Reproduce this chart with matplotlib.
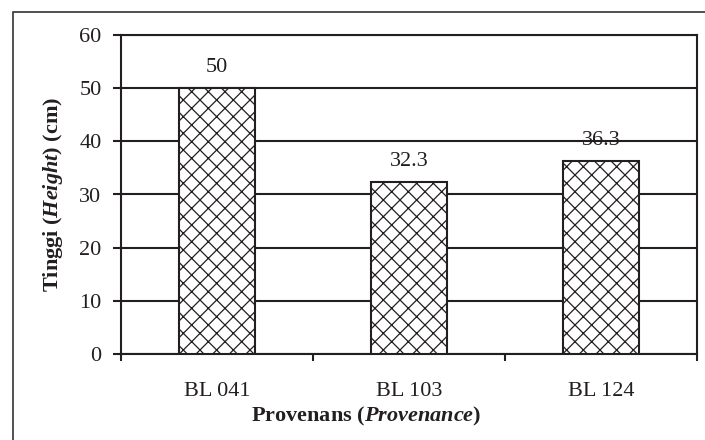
import matplotlib
matplotlib.use("Agg")
import matplotlib.pyplot as plt
from matplotlib.patches import Rectangle
from matplotlib.ticker import FixedLocator, NullFormatter

categories = ["BL 041", "BL 103", "BL 124"]
values = [50, 32.3, 36.3]
value_labels = ["50", "32.3", "36.3"]
yticks = [0, 10, 20, 30, 40, 50, 60]

INK = '#231f20'
plt.rcParams['font.family'] = ['Liberation Serif', 'DejaVu Serif']
plt.rcParams['mathtext.fontset'] = 'custom'
plt.rcParams['mathtext.rm'] = 'Liberation Serif'
plt.rcParams['mathtext.it'] = 'Liberation Serif:italic:bold'
plt.rcParams['mathtext.bf'] = 'Liberation Serif:bold'
plt.rcParams['hatch.linewidth'] = 0.9
plt.rcParams['hatch.color'] = INK

fig = plt.figure(figsize=(7.05, 4.4), dpi=100)
W, H = 705, 440
ax = fig.add_axes([121 / W, 1 - 354 / H, (697 - 121) / W, (354 - 35) / H])

x = list(range(len(categories)))
ax.bar(x, values, width=0.4, color='white', edgecolor=INK, linewidth=1.5, hatch='xx', zorder=3)

for xi, v, lab in zip(x, values, value_labels):
    ax.annotate(lab, (xi, v), xytext=(0, 11.5), textcoords='offset points',
                ha='center', va='baseline', fontsize=16, color=INK, zorder=4)

ax.set_xlim(-0.5, len(categories) - 0.5)
ax.set_ylim(0, 60)
ax.set_yticks(yticks)
ax.tick_params(axis='y', labelsize=16, length=6, width=1.5, direction='out', pad=8, colors=INK)
ax.yaxis.grid(True, color=INK, linewidth=1.5, zorder=0)
ax.set_axisbelow(True)

ax.xaxis.set_major_locator(FixedLocator([-0.5, 0.5, 1.5, 2.5]))
ax.xaxis.set_major_formatter(NullFormatter())
ax.tick_params(axis='x', which='major', length=5, width=1.5, direction='out', colors=INK)
ax.xaxis.set_minor_locator(FixedLocator(x))
ax.set_xticklabels(categories, minor=True)
ax.tick_params(axis='x', which='minor', length=0, labelsize=16, pad=20, colors=INK)

for s in ax.spines.values():
    s.set_linewidth(1.5)
    s.set_color(INK)

ax.set_xlabel('Provenans (' + r'$\mathit{Provenance}$' + ')', fontsize=16, fontweight='bold', color=INK)
ax.xaxis.set_label_coords((366 - 121) / 576, -(405 - 354) / 319, transform=ax.transAxes)
ax.xaxis.label.set_va('top')
ax.set_ylabel('Tinggi (' + r'$\mathit{Height}$' + ') (cm)', fontsize=16, fontweight='bold', labelpad=10, color=INK)

fig.patches.append(Rectangle((13 / W, -0.1), 1.2, 1 - 12 / H + 0.1, transform=fig.transFigure,
                             fill=False, edgecolor='#333333', linewidth=1.2))

fig.savefig('out.png', dpi=100)
